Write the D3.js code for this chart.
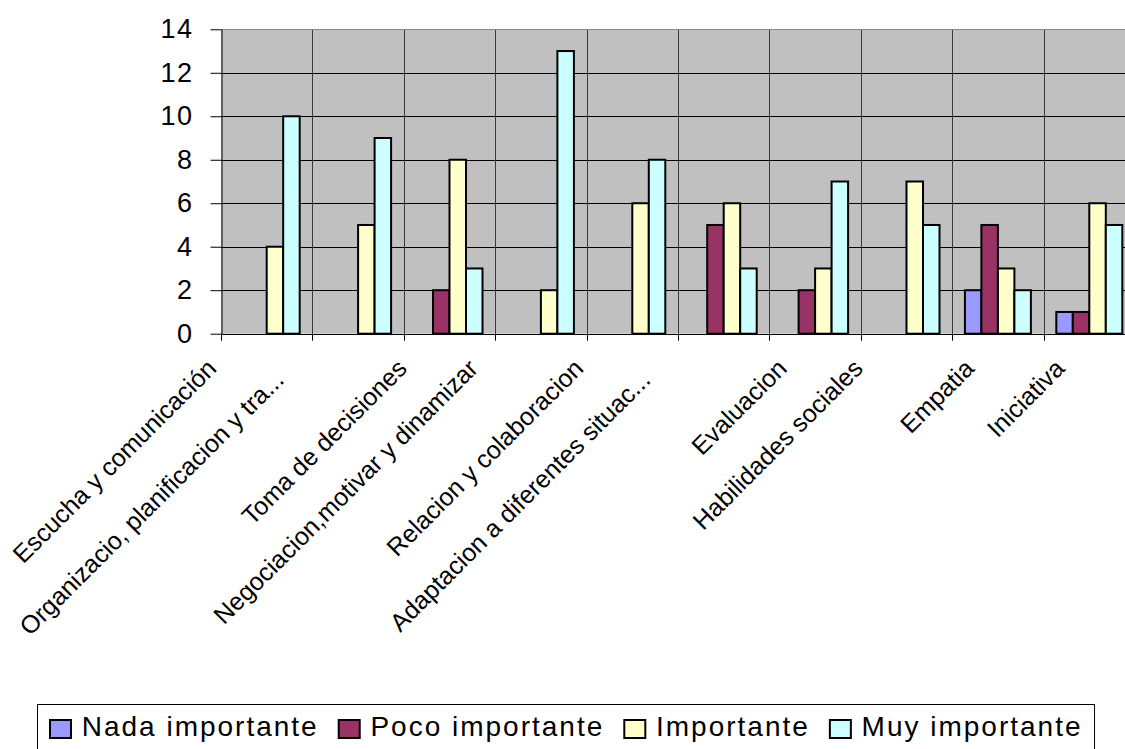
<!DOCTYPE html>
<html>
<head>
<meta charset="utf-8">
<script src="https://cdn.jsdelivr.net/npm/d3@7"></script>
<style>
  body { margin: 0; background: #fff; }
  svg { display: block; font-family: "Liberation Sans", Arial, sans-serif; }
</style>
</head>
<body>
<svg class="chart"></svg>
<script>
const categories = [
  "Escucha y comunicación",
  "Organizacio, planificacion y tra...",
  "Toma de decisiones",
  "Negociacion,motivar y dinamizar",
  "Relacion y colaboracion",
  "Adaptacion a diferentes situac...",
  "Evaluacion",
  "Habilidades sociales",
  "Empatia",
  "Iniciativa"
];
const series = ["Nada importante", "Poco importante", "Importante", "Muy importante"];
const nada = [0, 0, 0, 0, 0, 0, 0, 0, 2, 1];
const poco = [0, 0, 2, 0, 0, 5, 2, 0, 5, 1];
const importante = [4, 5, 8, 2, 6, 6, 3, 7, 3, 6];
const muy = [10, 9, 3, 13, 8, 3, 7, 5, 2, 5];
const yTicks = [0, 2, 4, 6, 8, 10, 12, 14];
const colors = ["#9999FF", "#993366", "#FFFFCC", "#CCFFFF"];

const width = 1125,
  height = 749;
const plot = { left: 221, top: 29.3, bottom: 333.7, step: 91.4 };

const values = [nada, poco, importante, muy];

let chart = d3.select(".chart")
  .attr("width", width)
  .attr("height", height);

let x0 = d3.scaleBand()
  .domain(categories)
  .range([plot.left, plot.left + plot.step * categories.length])
  .padding(0);

let x1 = d3.scaleBand()
  .domain(series)
  .range([0, x0.bandwidth()])
  .paddingInner(0)
  .paddingOuter(0.77);

let y = d3.scaleLinear()
  .domain([0, 14])
  .range([plot.bottom, plot.top]);

let color = d3.scaleOrdinal()
  .domain(series)
  .range(colors);

const right = x0.range()[1];

// plot background
chart.append("rect")
  .attr("x", plot.left)
  .attr("y", plot.top)
  .attr("width", right - plot.left)
  .attr("height", plot.bottom - plot.top)
  .attr("fill", "#C0C0C0");

// horizontal grid
chart.append("g").selectAll("line")
  .data(yTicks.filter(t => t > 0 && t < 14))
  .enter().append("line")
  .attr("x1", plot.left)
  .attr("x2", right)
  .attr("y1", d => Math.round(y(d)) + 0.5)
  .attr("y2", d => Math.round(y(d)) + 0.5)
  .attr("stroke", "#000")
  .attr("stroke-width", 1);

// vertical grid at category boundaries
chart.append("g").selectAll("line")
  .data(categories.slice(1))
  .enter().append("line")
  .attr("x1", d => Math.round(x0(d)) + 0.5)
  .attr("x2", d => Math.round(x0(d)) + 0.5)
  .attr("y1", plot.top)
  .attr("y2", plot.bottom)
  .attr("stroke", "#3a3a3a")
  .attr("stroke-width", 1);

// top border
chart.append("line")
  .attr("x1", plot.left)
  .attr("x2", right)
  .attr("y1", Math.round(y(14)) + 0.5)
  .attr("y2", Math.round(y(14)) + 0.5)
  .attr("stroke", "#8a8a8a");

// bars
let rows = categories.map((c, i) => ({
  cat: c,
  vals: series.map((s, k) => ({ key: s, value: values[k][i] }))
}));

chart.append("g").selectAll("g")
  .data(rows)
  .enter().append("g")
  .attr("transform", d => `translate(${x0(d.cat)},0)`)
  .selectAll("rect")
  .data(d => d.vals.filter(v => v.value > 0))
  .enter().append("rect")
  .attr("x", d => x1(d.key))
  .attr("y", d => y(d.value))
  .attr("width", x1.bandwidth())
  .attr("height", d => y(0) - y(d.value))
  .attr("fill", d => color(d.key))
  .attr("stroke", "#000")
  .attr("stroke-width", 2);

// y axis
let yAxis = chart.append("g")
  .attr("transform", `translate(${plot.left + 0.5},0)`)
  .call(d3.axisLeft(y).tickValues(yTicks).tickSize(11).tickSizeOuter(0).tickPadding(17));
yAxis.select(".domain").attr("stroke", "#000");
yAxis.selectAll(".tick line").attr("stroke", "#000");
yAxis.selectAll("text")
  .attr("fill", "#000")
  .style("font-size", "27px")
  .style("letter-spacing", "1.5px")
  .attr("font-family", null);

// x axis line and boundary ticks
chart.append("line")
  .attr("x1", plot.left)
  .attr("x2", right)
  .attr("y1", Math.round(y(0)) + 0.5)
  .attr("y2", Math.round(y(0)) + 0.5)
  .attr("stroke", "#000");

chart.append("g").selectAll("line")
  .data(categories.map(c => x0(c)).concat([right]))
  .enter().append("line")
  .attr("x1", d => Math.round(d) + 0.5)
  .attr("x2", d => Math.round(d) + 0.5)
  .attr("y1", y(0))
  .attr("y2", y(0) + 7)
  .attr("stroke", "#000");

// category labels, rotated 45 degrees
chart.append("g").selectAll("text")
  .data(categories)
  .enter().append("text")
  .attr("text-anchor", "end")
  .style("font-size", "25px")
  .attr("fill", "#000")
  .attr("x", d => d.endsWith("...") ? -16 : 0)
  .text(d => d)
  .each(function(d) {
    let len = this.getComputedTextLength();
    let cx = x0(d) + x0.bandwidth() / 2 - 9 - 0.145 * len;
    d3.select(this).attr("transform", `translate(${cx},370) rotate(-45)`);
  });

// legend
let legend = chart.append("g");
let box = legend.append("rect")
  .attr("fill", "#fff")
  .attr("stroke", "#000")
  .attr("stroke-width", 1);

let lx = 50;
series.forEach(s => {
  legend.append("rect")
    .attr("x", lx)
    .attr("y", 720)
    .attr("width", 21)
    .attr("height", 18)
    .attr("fill", color(s))
    .attr("stroke", "#000")
    .attr("stroke-width", 2);
  let t = legend.append("text")
    .attr("x", lx + 31.7)
    .attr("y", 736)
    .style("font-size", "28px")
    .style("letter-spacing", "2px")
    .attr("fill", "#000")
    .text(s);
  lx = lx + 31.7 + t.node().getComputedTextLength() + 20;
});

box.attr("x", 37.5)
  .attr("y", 704.5)
  .attr("width", lx - 20 + 12 - 37.5)
  .attr("height", 50);
</script>
</body>
</html>
